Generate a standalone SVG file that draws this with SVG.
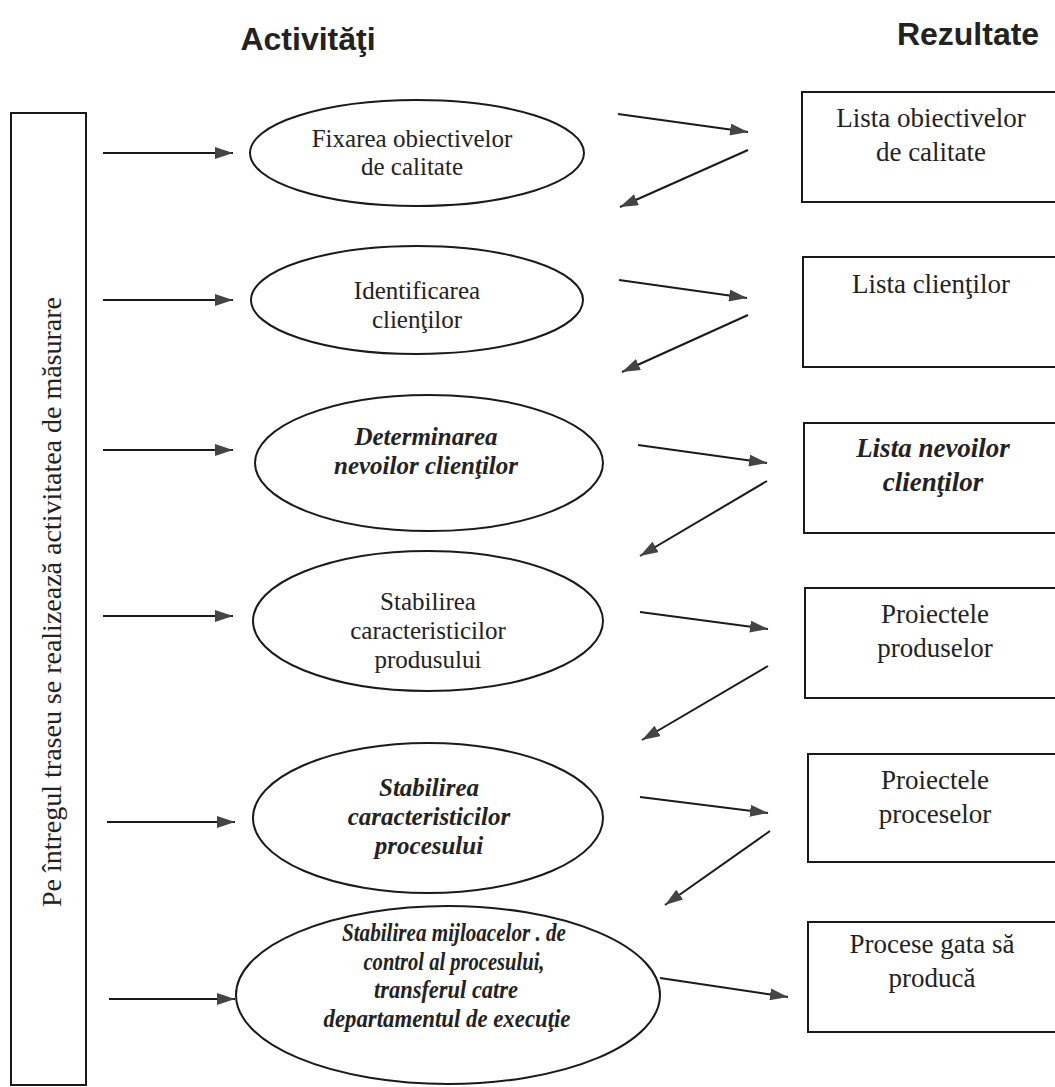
<svg xmlns="http://www.w3.org/2000/svg" width="1055" height="1087" viewBox="0 0 1055 1087">
<style>
.hdr{font-family:"Liberation Sans",Arial,sans-serif;font-weight:bold;font-size:32px;fill:#222;text-anchor:middle}
.t{font-family:"Liberation Serif","Times New Roman",serif;font-size:25px;fill:#222;text-anchor:middle}
.bt{font-family:"Liberation Serif","Times New Roman",serif;font-size:27px;fill:#222;text-anchor:middle}
.bi{font-weight:bold;font-style:italic}
.shape{fill:#fff;stroke:#1a1a1a;stroke-width:2}
.conn line{stroke:#1a1a1a;stroke-width:2}
</style>
<defs>
<marker id="ah" markerUnits="userSpaceOnUse" markerWidth="18" markerHeight="12" refX="18" refY="6" orient="auto">
<path d="M0,0 L18,6 L0,12 z" fill="#444"/>
</marker>
</defs>
<rect width="1055" height="1087" fill="#fff"/>
<text class="hdr" x="308" y="50">Activităţi</text>
<text class="hdr" x="968" y="45">Rezultate</text>

<g id="measure">
<rect class="shape" x="11" y="113" width="75" height="972"/>
<text class="bt" transform="translate(61,602) rotate(-90)" textLength="610" lengthAdjust="spacingAndGlyphs">Pe întregul traseu se realizează activitatea de măsurare</text>
</g>

<g id="act1">
<ellipse class="shape" cx="417" cy="153" rx="167" ry="53"/>
<text class="t" x="412" y="147">Fixarea obiectivelor</text>
<text class="t" x="412" y="175">de calitate</text>
</g>
<g id="act2">
<ellipse class="shape" cx="417" cy="300" rx="166" ry="54"/>
<text class="t" x="417" y="299">Identificarea</text>
<text class="t" x="417" y="328">clienţilor</text>
</g>
<g id="act3">
<ellipse class="shape" cx="429" cy="463" rx="174" ry="68"/>
<text class="t bi" x="426" y="445" font-size="24">Determinarea</text>
<text class="t bi" x="426" y="474" font-size="24">nevoilor clienţilor</text>
</g>
<g id="act4">
<ellipse class="shape" cx="428" cy="621" rx="175" ry="70"/>
<text class="t" x="428" y="610">Stabilirea</text>
<text class="t" x="428" y="639">caracteristicilor</text>
<text class="t" x="428" y="668">produsului</text>
</g>
<g id="act5">
<ellipse class="shape" cx="428" cy="818" rx="175" ry="75"/>
<text class="t bi" x="429" y="796" font-size="24">Stabilirea</text>
<text class="t bi" x="429" y="825" font-size="24">caracteristicilor</text>
<text class="t bi" x="429" y="854" font-size="24">procesului</text>
</g>
<g id="act6">
<ellipse class="shape" cx="448" cy="995" rx="212" ry="89"/>
<text class="t bi" x="454" y="941" font-size="23" textLength="224" lengthAdjust="spacingAndGlyphs">Stabilirea mijloacelor . de</text>
<text class="t bi" x="454" y="970" font-size="23" textLength="181" lengthAdjust="spacingAndGlyphs">control al procesului,</text>
<text class="t bi" x="446" y="998" font-size="23" textLength="144" lengthAdjust="spacingAndGlyphs">transferul catre</text>
<text class="t bi" x="447" y="1027" font-size="23" textLength="247" lengthAdjust="spacingAndGlyphs">departamentul de execuţie</text>
</g>

<g id="res1">
<rect class="shape" x="802" y="92" width="260" height="110"/>
<text class="bt" x="931" y="127">Lista obiectivelor</text>
<text class="bt" x="931" y="161">de calitate</text>
</g>
<g id="res2">
<rect class="shape" x="803" y="257" width="260" height="110"/>
<text class="bt" x="931" y="293">Lista clienţilor</text>
</g>
<g id="res3">
<rect class="shape" x="804" y="423" width="260" height="110"/>
<text class="bt bi" x="933" y="457">Lista nevoilor</text>
<text class="bt bi" x="933" y="491">clienţilor</text>
</g>
<g id="res4">
<rect class="shape" x="805" y="588" width="260" height="110"/>
<text class="bt" x="935" y="623">Proiectele</text>
<text class="bt" x="935" y="657">produselor</text>
</g>
<g id="res5">
<rect class="shape" x="808" y="754" width="260" height="108"/>
<text class="bt" x="935" y="789">Proiectele</text>
<text class="bt" x="935" y="823">proceselor</text>
</g>
<g id="res6">
<rect class="shape" x="808" y="922" width="260" height="110"/>
<text class="bt" x="932" y="953">Procese gata să</text>
<text class="bt" x="932" y="987">producă</text>
</g>

<g id="connectors" class="conn">
<line x1="103" y1="153" x2="233" y2="153" marker-end="url(#ah)"/>
<line x1="103" y1="300" x2="233" y2="300" marker-end="url(#ah)"/>
<line x1="103" y1="450" x2="233" y2="450" marker-end="url(#ah)"/>
<line x1="103" y1="616" x2="233" y2="616" marker-end="url(#ah)"/>
<line x1="107" y1="822" x2="235" y2="822" marker-end="url(#ah)"/>
<line x1="109" y1="999" x2="235" y2="999" marker-end="url(#ah)"/>

<line x1="618" y1="114" x2="748" y2="132" marker-end="url(#ah)"/>
<line x1="748" y1="150" x2="620" y2="207" marker-end="url(#ah)"/>
<line x1="619" y1="280" x2="747" y2="298" marker-end="url(#ah)"/>
<line x1="748" y1="315" x2="622" y2="372" marker-end="url(#ah)"/>
<line x1="638" y1="445" x2="767" y2="463" marker-end="url(#ah)"/>
<line x1="767" y1="481" x2="640" y2="556" marker-end="url(#ah)"/>
<line x1="640" y1="612" x2="768" y2="629" marker-end="url(#ah)"/>
<line x1="768" y1="666" x2="642" y2="740" marker-end="url(#ah)"/>
<line x1="640" y1="797" x2="768" y2="813" marker-end="url(#ah)"/>
<line x1="770" y1="831" x2="665" y2="905" marker-end="url(#ah)"/>
<line x1="660" y1="978" x2="788" y2="997" marker-end="url(#ah)"/>
</g>
</svg>
